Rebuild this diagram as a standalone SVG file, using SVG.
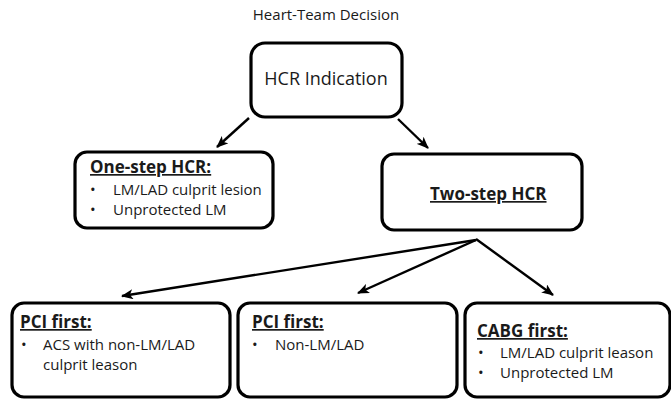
<svg xmlns="http://www.w3.org/2000/svg" width="671" height="400" viewBox="0 0 671 400">
<style>
  .box { fill: #ffffff; stroke: #000000; stroke-width: 3.2; }
  .t { font-family: "Open Sans", "Liberation Sans", sans-serif; fill: #1a1a1a; }
  .h { font-size: 17px; font-weight: bold; text-decoration: underline; }
  .b { font-size: 15px; }
  .conn { stroke: #000000; stroke-width: 2.4; fill: none; marker-end: url(#arr); }
</style>
<defs>
  <marker id="arr" markerUnits="userSpaceOnUse" markerWidth="12" markerHeight="10" viewBox="0 0 12 10" refX="11" refY="5" orient="auto">
    <path d="M0,0 L12,5 L0,10 L3,5 Z" fill="#000000"/>
  </marker>
</defs>
<rect width="671" height="400" fill="#ffffff"/>
<text class="t" x="326" y="20" font-size="15" text-anchor="middle">Heart-Team Decision</text>

<g id="connectors">
  <line class="conn" x1="249" y1="118" x2="217" y2="147"/>
  <line class="conn" x1="398" y1="119" x2="428" y2="148"/>
  <line class="conn" x1="476" y1="240" x2="122" y2="296"/>
  <line class="conn" x1="476" y1="240" x2="358" y2="293"/>
  <line class="conn" x1="476" y1="239" x2="553" y2="295"/>
</g>

<g id="hcr-indication">
  <rect class="box" x="251" y="43" width="151" height="74" rx="14"/>
  <text class="t" x="326" y="85" font-size="18" text-anchor="middle">HCR Indication</text>
</g>

<g id="one-step">
  <rect class="box" x="75" y="152" width="198" height="76" rx="12"/>
  <text class="t h" x="90" y="173">One-step HCR:</text>
  <text class="t b" x="90" y="195">•</text>
  <text class="t b" x="113" y="195">LM/LAD culprit lesion</text>
  <text class="t b" x="90" y="215">•</text>
  <text class="t b" x="113" y="215">Unprotected LM</text>
</g>

<g id="two-step">
  <rect class="box" x="382" y="154" width="200" height="76" rx="12"/>
  <text class="t h" x="430" y="200">Two-step HCR</text>
</g>

<g id="pci-first-acs">
  <rect class="box" x="12" y="303" width="218" height="94" rx="12"/>
  <text class="t h" x="20" y="328">PCI first:</text>
  <text class="t b" x="21" y="350">•</text>
  <text class="t b" x="43" y="350">ACS with non-LM/LAD</text>
  <text class="t b" x="43" y="370">culprit leason</text>
</g>

<g id="pci-first-non">
  <rect class="box" x="238" y="303" width="219" height="94" rx="12"/>
  <text class="t h" x="252" y="328">PCI first:</text>
  <text class="t b" x="252" y="350">•</text>
  <text class="t b" x="275" y="350">Non-LM/LAD</text>
</g>

<g id="cabg-first">
  <rect class="box" x="465" y="303" width="205" height="94" rx="12"/>
  <text class="t h" x="477" y="337">CABG first:</text>
  <text class="t b" x="478" y="358">•</text>
  <text class="t b" x="500" y="358">LM/LAD culprit leason</text>
  <text class="t b" x="478" y="378">•</text>
  <text class="t b" x="500" y="378">Unprotected LM</text>
</g>
</svg>
